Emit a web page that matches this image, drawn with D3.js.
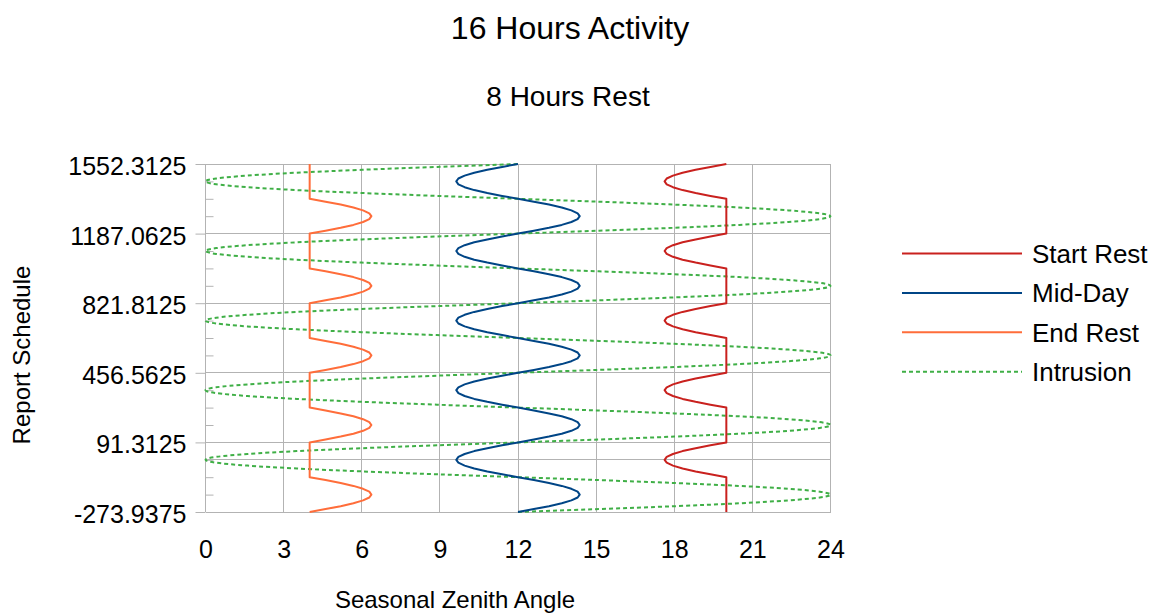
<!DOCTYPE html>
<html>
<head>
<meta charset="utf-8">
<script src="https://cdn.jsdelivr.net/npm/d3@7"></script>
<style>
  body { margin: 0; background: #fff; }
  svg { font-family: "Liberation Sans", Arial, sans-serif; }
</style>
</head>
<body>
<svg id="chart" width="1156" height="614"></svg>
<script>
// day of the report schedule (y) for every sample
var days = [
  -273.94, -258.72, -243.5, -228.28, -213.06, -197.84, -182.63, -167.41, -152.19, -136.97, -121.75, -106.53,
  -91.31, -76.09, -60.88, -45.66, -30.44, -15.22,
  0, 15.22, 30.44, 45.66, 60.88, 76.09, 91.31, 106.53, 121.75, 136.97, 152.19, 167.41,
  182.63, 197.84, 213.06, 228.28, 243.5, 258.72, 273.94, 289.16, 304.38, 319.59, 334.81, 350.03,
  365.25, 380.47, 395.69, 410.91, 426.13, 441.34, 456.56, 471.78, 487, 502.22, 517.44, 532.66,
  547.88, 563.09, 578.31, 593.53, 608.75, 623.97, 639.19, 654.41, 669.63, 684.84, 700.06, 715.28,
  730.5, 745.72, 760.94, 776.16, 791.38, 806.59, 821.81, 837.03, 852.25, 867.47, 882.69, 897.91,
  913.13, 928.34, 943.56, 958.78, 974, 989.22, 1004.44, 1019.66, 1034.88, 1050.09, 1065.31, 1080.53,
  1095.75, 1110.97, 1126.19, 1141.41, 1156.63, 1171.84, 1187.06, 1202.28, 1217.5, 1232.72, 1247.94, 1263.16,
  1278.38, 1293.59, 1308.81, 1324.03, 1339.25, 1354.47, 1369.69, 1384.91, 1400.13, 1415.34, 1430.56, 1445.78,
  1461, 1476.22, 1491.44, 1506.66, 1521.88, 1537.09, 1552.31
];

// hours for each series, one row per year
var startRest = [
  20, 20, 20, 20, 20, 20, 20, 20, 20, 20, 20, 20, 20, 19.39, 18.82, 18.32, 17.95, 17.71, 17.63, 17.71, 17.95, 18.32, 18.82, 19.39,
  20, 20, 20, 20, 20, 20, 20, 20, 20, 20, 20, 20, 20, 19.39, 18.82, 18.32, 17.95, 17.71, 17.63, 17.71, 17.95, 18.32, 18.82, 19.39,
  20, 20, 20, 20, 20, 20, 20, 20, 20, 20, 20, 20, 20, 19.39, 18.82, 18.32, 17.95, 17.71, 17.63, 17.71, 17.95, 18.32, 18.82, 19.39,
  20, 20, 20, 20, 20, 20, 20, 20, 20, 20, 20, 20, 20, 19.39, 18.82, 18.32, 17.95, 17.71, 17.63, 17.71, 17.95, 18.32, 18.82, 19.39,
  20, 20, 20, 20, 20, 20, 20, 20, 20, 20, 20, 20, 20, 19.39, 18.82, 18.32, 17.95, 17.71, 17.63, 17.71, 17.95, 18.32, 18.82, 19.39,
  20
];

var midDay = [
  12, 12.61, 13.19, 13.68, 14.05, 14.29, 14.37, 14.29, 14.05, 13.68, 13.19, 12.61, 12, 11.39, 10.82, 10.32, 9.95, 9.71, 9.63, 9.71, 9.95, 10.32, 10.82, 11.39,
  12, 12.61, 13.19, 13.68, 14.05, 14.29, 14.37, 14.29, 14.05, 13.68, 13.19, 12.61, 12, 11.39, 10.82, 10.32, 9.95, 9.71, 9.63, 9.71, 9.95, 10.32, 10.82, 11.39,
  12, 12.61, 13.19, 13.68, 14.05, 14.29, 14.37, 14.29, 14.05, 13.68, 13.19, 12.61, 12, 11.39, 10.82, 10.32, 9.95, 9.71, 9.63, 9.71, 9.95, 10.32, 10.82, 11.39,
  12, 12.61, 13.19, 13.68, 14.05, 14.29, 14.37, 14.29, 14.05, 13.68, 13.19, 12.61, 12, 11.39, 10.82, 10.32, 9.95, 9.71, 9.63, 9.71, 9.95, 10.32, 10.82, 11.39,
  12, 12.61, 13.19, 13.68, 14.05, 14.29, 14.37, 14.29, 14.05, 13.68, 13.19, 12.61, 12, 11.39, 10.82, 10.32, 9.95, 9.71, 9.63, 9.71, 9.95, 10.32, 10.82, 11.39,
  12
];

var endRest = [
  4, 4.61, 5.19, 5.68, 6.05, 6.29, 6.37, 6.29, 6.05, 5.68, 5.19, 4.61, 4, 4, 4, 4, 4, 4, 4, 4, 4, 4, 4, 4,
  4, 4.61, 5.19, 5.68, 6.05, 6.29, 6.37, 6.29, 6.05, 5.68, 5.19, 4.61, 4, 4, 4, 4, 4, 4, 4, 4, 4, 4, 4, 4,
  4, 4.61, 5.19, 5.68, 6.05, 6.29, 6.37, 6.29, 6.05, 5.68, 5.19, 4.61, 4, 4, 4, 4, 4, 4, 4, 4, 4, 4, 4, 4,
  4, 4.61, 5.19, 5.68, 6.05, 6.29, 6.37, 6.29, 6.05, 5.68, 5.19, 4.61, 4, 4, 4, 4, 4, 4, 4, 4, 4, 4, 4, 4,
  4, 4.61, 5.19, 5.68, 6.05, 6.29, 6.37, 6.29, 6.05, 5.68, 5.19, 4.61, 4, 4, 4, 4, 4, 4, 4, 4, 4, 4, 4, 4,
  4
];

var intrusion = [
  12, 15.11, 18, 20.49, 22.39, 23.59, 24, 23.59, 22.39, 20.49, 18, 15.11, 12, 8.89, 6, 3.51, 1.61, 0.41, 0, 0.41, 1.61, 3.51, 6, 8.89,
  12, 15.11, 18, 20.49, 22.39, 23.59, 24, 23.59, 22.39, 20.49, 18, 15.11, 12, 8.89, 6, 3.51, 1.61, 0.41, 0, 0.41, 1.61, 3.51, 6, 8.89,
  12, 15.11, 18, 20.49, 22.39, 23.59, 24, 23.59, 22.39, 20.49, 18, 15.11, 12, 8.89, 6, 3.51, 1.61, 0.41, 0, 0.41, 1.61, 3.51, 6, 8.89,
  12, 15.11, 18, 20.49, 22.39, 23.59, 24, 23.59, 22.39, 20.49, 18, 15.11, 12, 8.89, 6, 3.51, 1.61, 0.41, 0, 0.41, 1.61, 3.51, 6, 8.89,
  12, 15.11, 18, 20.49, 22.39, 23.59, 24, 23.59, 22.39, 20.49, 18, 15.11, 12, 8.89, 6, 3.51, 1.61, 0.41, 0, 0.41, 1.61, 3.51, 6, 8.89,
  12
];

var xTicks = [0, 3, 6, 9, 12, 15, 18, 21, 24];
var yTicks = [-273.9375, 91.3125, 456.5625, 821.8125, 1187.0625, 1552.3125];
var yTickLabels = ['-273.9375', '91.3125', '456.5625', '821.8125', '1187.0625', '1552.3125'];
var yMinorTicks = [-182.625, -91.3125, 0, 182.625, 273.9375, 365.25, 547.875, 639.1875, 730.5,
  913.125, 1004.4375, 1095.75, 1278.375, 1369.6875, 1461];

var seriesNames = ['Start Rest', 'Mid-Day', 'End Rest', 'Intrusion'];
var seriesValues = [startRest, midDay, endRest, intrusion];
var seriesColors = ['#c9211e', '#004586', '#ff6d3a', '#3faf46'];

var svg = d3.select('#chart');

var margin = { top: 164, right: 325.5, bottom: 102, left: 205.5 };
var width = 1156 - margin.left - margin.right,
  height = 614 - margin.top - margin.bottom;

var xScale = d3.scaleLinear().domain([0, 24]).range([margin.left, margin.left + width]);
var yScale = d3.scaleLinear().domain([yTicks[0], yTicks[yTicks.length - 1]]).range([margin.top + height, margin.top]);

var gridColor = '#b3b3b3';

// Titles.

svg.append('text')
  .attr('x', 570).attr('y', 39)
  .attr('text-anchor', 'middle')
  .style('font-size', '32px')
  .text('16 Hours Activity');

svg.append('text')
  .attr('x', 568).attr('y', 106)
  .attr('text-anchor', 'middle')
  .style('font-size', '28px')
  .text('8 Hours Rest');

// Grid lines.

var grid = svg.append('g').attr('stroke', gridColor).attr('stroke-width', 1).attr('shape-rendering', 'crispEdges');

grid.selectAll('.vgrid')
  .data(xTicks)
  .enter()
  .append('line')
  .attr('x1', function(d) { return xScale(d); })
  .attr('x2', function(d) { return xScale(d); })
  .attr('y1', yScale.range()[1])
  .attr('y2', yScale.range()[0]);

grid.selectAll('.hgrid')
  .data(yTicks)
  .enter()
  .append('line')
  .attr('x1', xScale.range()[0])
  .attr('x2', xScale.range()[1])
  .attr('y1', function(d) { return yScale(d); })
  .attr('y2', function(d) { return yScale(d); });

// axis line where y = 0
grid.append('line')
  .attr('x1', xScale.range()[0])
  .attr('x2', xScale.range()[1])
  .attr('y1', yScale(0))
  .attr('y2', yScale(0));

// Y axis: major ticks outside with labels, minor ticks inside.

var yAxis = svg.append('g')
  .attr('transform', 'translate(' + margin.left + ',0)')
  .call(d3.axisLeft(yScale)
    .tickValues(yTicks)
    .tickSize(10)
    .tickPadding(9)
    .tickFormat(function(d, i) { return yTickLabels[i]; }));

yAxis.select('.domain').remove();
yAxis.selectAll('line').attr('stroke', gridColor);
yAxis.selectAll('text')
  .attr('fill', '#000')
  .attr('dy', '0.42em')
  .style('font-size', '25px')
  .style('font-family', '"Liberation Sans", Arial, sans-serif');

var yMinor = svg.append('g')
  .attr('transform', 'translate(' + margin.left + ',0)')
  .call(d3.axisLeft(yScale)
    .tickValues(yMinorTicks)
    .tickSize(-8)
    .tickFormat(''));

yMinor.select('.domain').remove();
yMinor.selectAll('line').attr('stroke', gridColor);

// X axis labels.

var xAxis = svg.append('g')
  .attr('transform', 'translate(0,' + (margin.top + height) + ')')
  .call(d3.axisBottom(xScale)
    .tickValues(xTicks)
    .tickSize(0)
    .tickPadding(28));

xAxis.select('.domain').remove();
xAxis.selectAll('text')
  .attr('fill', '#000')
  .style('font-size', '25px')
  .style('font-family', '"Liberation Sans", Arial, sans-serif');

// Axis titles.

svg.append('text')
  .attr('x', 455).attr('y', 608)
  .attr('text-anchor', 'middle')
  .style('font-size', '24px')
  .text('Seasonal Zenith Angle');

svg.append('text')
  .attr('transform', 'translate(30,355) rotate(-90)')
  .attr('text-anchor', 'middle')
  .style('font-size', '24px')
  .text('Report Schedule');

// Series lines, intrusion first so the solid lines sit on top.

var line = d3.line()
  .x(function(d) { return xScale(d.hours); })
  .y(function(d) { return yScale(d.day); });

var order = [3, 0, 1, 2];

order.forEach(function(s) {
  var points = seriesValues[s].map(function(v, i) {
    return { day: days[i], hours: v };
  });
  svg.append('path')
    .datum(points)
    .attr('fill', 'none')
    .attr('stroke', seriesColors[s])
    .attr('stroke-width', 2)
    .attr('stroke-linejoin', 'round')
    .attr('stroke-dasharray', s === 3 ? '4,3' : null)
    .attr('d', line.curve(s === 3 ? d3.curveMonotoneY : d3.curveLinear));
});

// Legend.

var legend = svg.append('g')
  .selectAll('g')
  .data(seriesNames)
  .enter()
  .append('g')
  .attr('transform', function(d, i) { return 'translate(902,' + (253.5 + i * 39.4) + ')'; });

legend.append('line')
  .attr('x1', 0).attr('x2', 120)
  .attr('stroke', function(d, i) { return seriesColors[i]; })
  .attr('stroke-width', 2)
  .attr('stroke-dasharray', function(d, i) { return i === 3 ? '4,3' : null; });

legend.append('text')
  .attr('x', 130).attr('y', 9.5)
  .style('font-size', '26px')
  .text(function(d) { return d; });
</script>
</body>
</html>
